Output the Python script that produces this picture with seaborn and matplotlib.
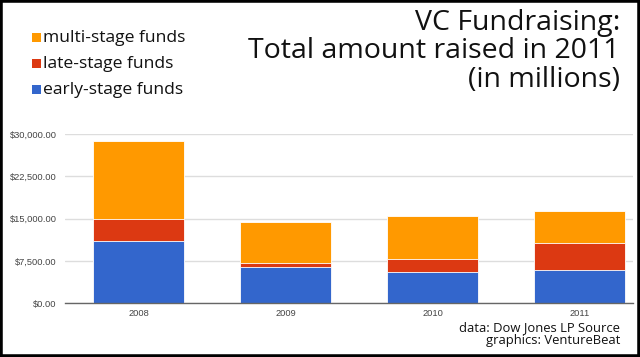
import numpy as np
import pandas as pd
import matplotlib
matplotlib.use("Agg")
import matplotlib.pyplot as plt
import seaborn as sns
from matplotlib.patches import Rectangle
from matplotlib.ticker import FuncFormatter

years = ["2008", "2009", "2010", "2011"]
early = [11000, 6350, 5550, 5850]
late = [3900, 810, 2300, 4810]
multi = [13900, 7240, 7630, 5610]

c_multi = "#FF9900"
c_late = "#DC3912"
c_early = "#3366CC"

df = pd.DataFrame({"year": years, "early": early, "late": late, "multi": multi})
df["early_late"] = df["early"] + df["late"]
df["total"] = df["early_late"] + df["multi"]

sns.set_style("white")
plt.rcParams["font.family"] = ["Liberation Sans", "DejaVu Sans"]

fig = plt.figure(figsize=(6.4, 3.57), dpi=100)
ax = fig.add_axes([0.1016, 0.151, 0.8875, 0.4734])

# stacked bars: draw cumulative totals back to front
for col, color in [("total", c_multi), ("early_late", c_late), ("early", c_early)]:
    sns.barplot(data=df, x="year", y=col, color=color, width=0.62,
                edgecolor="white", linewidth=0.6, saturation=1, ax=ax)

ax.set_ylim(0, 30000)
ax.set_xlim(-0.5, 3.364)
ax.set_yticks([0, 7500, 15000, 22500, 30000])
ax.yaxis.set_major_formatter(FuncFormatter(lambda v, p: f"${v:,.2f}"))
ax.grid(axis="y", color="#dddddd", linewidth=1)
ax.set_axisbelow(True)
for s in ["top", "right", "left"]:
    ax.spines[s].set_visible(False)
ax.spines["bottom"].set_color("#666666")
ax.spines["bottom"].set_linewidth(1)
ax.tick_params(axis="both", length=0, labelsize=6.7, labelcolor="#444444", pad=4)
ax.tick_params(axis="y", pad=6)
ax.set_xlabel("")
ax.set_ylabel("")

# legend
leg_items = [("multi-stage funds", c_multi, 42), ("late-stage funds", c_late, 68),
             ("early-stage funds", c_early, 94)]
for label, color, ypx in leg_items:
    y = 1 - ypx / 357
    fig.patches.append(Rectangle((32 / 640, y), 8.5 / 640, 8.5 / 357,
                                 transform=fig.transFigure, facecolor=color,
                                 edgecolor="none"))
    fig.text(43 / 640, y, label, fontsize=12.6, family="Open Sans",
             va="baseline", ha="left", color="#111111")

# title
title_lines = ["VC Fundraising:", "Total amount raised in 2011", "(in millions)"]
for i, line in enumerate(title_lines):
    fig.text(620 / 640, 1 - [30, 58, 87][i] / 357, line, fontsize=20.5,
             family="Open Sans", ha="right", va="baseline", color="#111111")

fig.text(620 / 640, 1 - 331 / 357, "data: Dow Jones LP Source", fontsize=9.4,
         family="Open Sans", ha="right", va="baseline", color="#111111")
fig.text(620 / 640, 1 - 344 / 357, "graphics: VentureBeat", fontsize=9.4,
         family="Open Sans", ha="right", va="baseline", color="#111111")

# black frame around the image
fig.patches.append(Rectangle((0, 0), 1, 1, transform=fig.transFigure,
                             facecolor="none", edgecolor="black", linewidth=4))

fig.savefig("out.png", dpi=100)
